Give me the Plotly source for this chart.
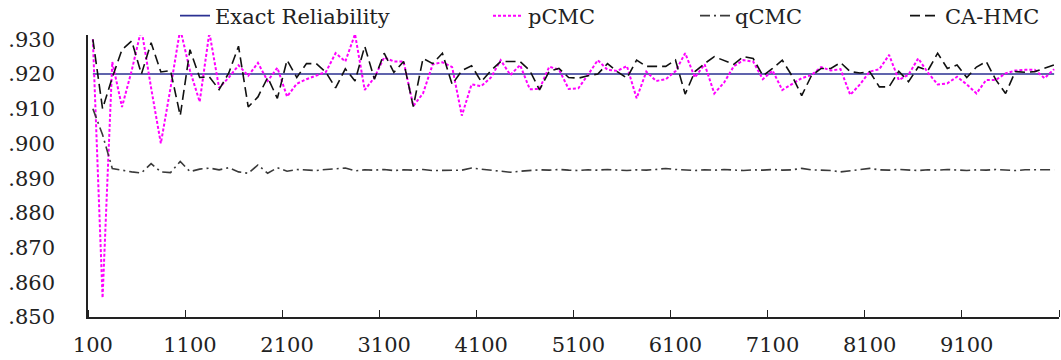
import plotly.graph_objects as go

samples = [100 + 100 * k for k in range(100)]

exact_reliability = [0.920] * 100

ca_hmc = [0.9300, 0.9100, 0.9190, 0.9270, 0.9295, 0.9200, 0.9290, 0.9206, 0.9210, 0.9080,
          0.9270, 0.9190, 0.9192, 0.9155, 0.9203, 0.9280, 0.9105, 0.9134, 0.9190, 0.9130,
          0.9240, 0.9190, 0.9230, 0.9230, 0.9205, 0.9160, 0.9215, 0.9180, 0.9280, 0.9185,
          0.9260, 0.9205, 0.9236, 0.9106, 0.9245, 0.9230, 0.9260, 0.9170, 0.9210, 0.9224,
          0.9178, 0.9210, 0.9236, 0.9236, 0.9236, 0.9210, 0.9154, 0.9208, 0.9216, 0.9190,
          0.9188, 0.9195, 0.9200, 0.9230, 0.9207, 0.9188, 0.9240, 0.9222, 0.9222, 0.9222,
          0.9240, 0.9142, 0.9207, 0.9230, 0.9250, 0.9240, 0.9228, 0.9250, 0.9245, 0.9195,
          0.9216, 0.9240, 0.9195, 0.9138, 0.9195, 0.9216, 0.9216, 0.9233, 0.9207, 0.9203,
          0.9207, 0.9163, 0.9163, 0.9208, 0.9178, 0.9220, 0.9210, 0.9260, 0.9216, 0.9226,
          0.9190, 0.9220, 0.9236, 0.9183, 0.9144, 0.9207, 0.9205, 0.9207, 0.9216, 0.9226]

p_cmc = [0.9300, 0.8555, 0.9235, 0.9105, 0.9210, 0.9330, 0.9160, 0.9000, 0.9160, 0.9330,
         0.9210, 0.9120, 0.9320, 0.9160, 0.9190, 0.9225, 0.9195, 0.9232, 0.9180, 0.9218,
         0.9135, 0.9172, 0.9185, 0.9195, 0.9206, 0.9260, 0.9236, 0.9315, 0.9154, 0.9190,
         0.9248, 0.9236, 0.9236, 0.9108, 0.9144, 0.9228, 0.9234, 0.9220, 0.9080, 0.9170,
         0.9165, 0.9190, 0.9240, 0.9197, 0.9226, 0.9156, 0.9157, 0.9221, 0.9213, 0.9157,
         0.9159, 0.9198, 0.9240, 0.9212, 0.9209, 0.9223, 0.9130, 0.9207, 0.9180, 0.9185,
         0.9208, 0.9260, 0.9190, 0.9228, 0.9144, 0.9175, 0.9222, 0.9240, 0.9236, 0.9185,
         0.9210, 0.9154, 0.9170, 0.9188, 0.9197, 0.9220, 0.9210, 0.9214, 0.9140, 0.9170,
         0.9207, 0.9214, 0.9255, 0.9183, 0.9198, 0.9245, 0.9204, 0.9170, 0.9173, 0.9192,
         0.9170, 0.9144, 0.9183, 0.9183, 0.9202, 0.9210, 0.9212, 0.9212, 0.9188, 0.9214]

q_cmc = [0.9100, 0.9025, 0.8928, 0.8922, 0.8918, 0.8915, 0.8942, 0.8918, 0.8916, 0.8948,
         0.8919, 0.8926, 0.8929, 0.8924, 0.8930, 0.8918, 0.8914, 0.8938, 0.8914, 0.8930,
         0.8920, 0.8925, 0.8924, 0.8922, 0.8925, 0.8927, 0.8929, 0.8921, 0.8924, 0.8923,
         0.8925, 0.8922, 0.8924, 0.8923, 0.8925, 0.8922, 0.8923, 0.8924, 0.8923, 0.8929,
         0.8926, 0.8923, 0.8922, 0.8917, 0.8920, 0.8923, 0.8924, 0.8923, 0.8925, 0.8923,
         0.8922, 0.8924, 0.8923, 0.8925, 0.8923, 0.8922, 0.8924, 0.8923, 0.8925, 0.8928,
         0.8925, 0.8923, 0.8922, 0.8924, 0.8923, 0.8925, 0.8923, 0.8922, 0.8924, 0.8923,
         0.8925, 0.8923, 0.8924, 0.8928, 0.8924, 0.8923, 0.8922, 0.8918, 0.8922, 0.8924,
         0.8928, 0.8924, 0.8923, 0.8925, 0.8923, 0.8922, 0.8924, 0.8923, 0.8925, 0.8923,
         0.8922, 0.8924, 0.8923, 0.8925, 0.8923, 0.8922, 0.8924, 0.8923, 0.8924, 0.8924]

y_tick_values = [0.850, 0.860, 0.870, 0.880, 0.890, 0.900, 0.910, 0.920, 0.930]
y_tick_labels = [".850", ".860", ".870", ".880", ".890", ".900", ".910", ".920", ".930"]
x_tick_values = [100, 1100, 2100, 3100, 4100, 5100, 6100, 7100, 8100, 9100]
x_tick_labels = ["100", "1100", "2100", "3100", "4100", "5100", "6100", "7100", "8100", "9100"]

FONT = "DejaVu Serif"
W, H = 1061, 360

fig = go.Figure()
fig.add_trace(go.Scatter(x=samples, y=exact_reliability, mode="lines", name="Exact Reliability",
                         line=dict(color="#2b3192", width=1.6), legend="legend"))
fig.add_trace(go.Scatter(x=samples, y=p_cmc, mode="lines", name="pCMC",
                         line=dict(color="#ff00ff", width=2, dash="3px,2px"), legend="legend2"))
fig.add_trace(go.Scatter(x=samples, y=q_cmc, mode="lines", name="qCMC",
                         line=dict(color="#3a3a3a", width=1.6, dash="10px,4px,2px,4px"), legend="legend3"))
fig.add_trace(go.Scatter(x=samples, y=ca_hmc, mode="lines", name="CA-HMC",
                         line=dict(color="#111111", width=1.6, dash="10px,5px"), legend="legend4"))

def leg(text_start_px):
    return dict(xref="container", yref="container", x=(text_start_px - 40) / W, y=1 - 16 / H,
                xanchor="left", yanchor="middle", orientation="h", bgcolor="rgba(0,0,0,0)",
                font=dict(family=FONT, size=21, color="#222"), borderwidth=0)

fig.update_layout(
    width=W, height=H,
    margin=dict(l=88, r=2, t=35, b=43, autoexpand=False),
    paper_bgcolor="white", plot_bgcolor="white",
    font=dict(family=FONT, size=21, color="#222"),
    showlegend=True,
    legend=leg(215), legend2=leg(528), legend3=leg(735), legend4=leg(945),
    xaxis=dict(range=[50, 10050], tickmode="array", tickvals=x_tick_values, ticktext=x_tick_labels,
               ticks="", showline=True, linecolor="#222", linewidth=1.6, showgrid=False, zeroline=False,
               ticklabelstandoff=8, automargin=False,
               minor=dict(tickmode="linear", tick0=50, dtick=1000, ticks="inside", ticklen=7,
                          tickwidth=1.4, tickcolor="#222", showgrid=False)),
    yaxis=dict(range=[0.850, 0.93124], tickmode="array", tickvals=y_tick_values, ticktext=y_tick_labels,
               ticks="", showline=True, linecolor="#222", linewidth=1.6, showgrid=False, zeroline=False,
               ticklabelstandoff=27, automargin=False),
)

fig.write_html("out.html", config={"displayModeBar": False},
               post_script="document.body.style.margin='0';document.body.style.overflow='hidden';")
